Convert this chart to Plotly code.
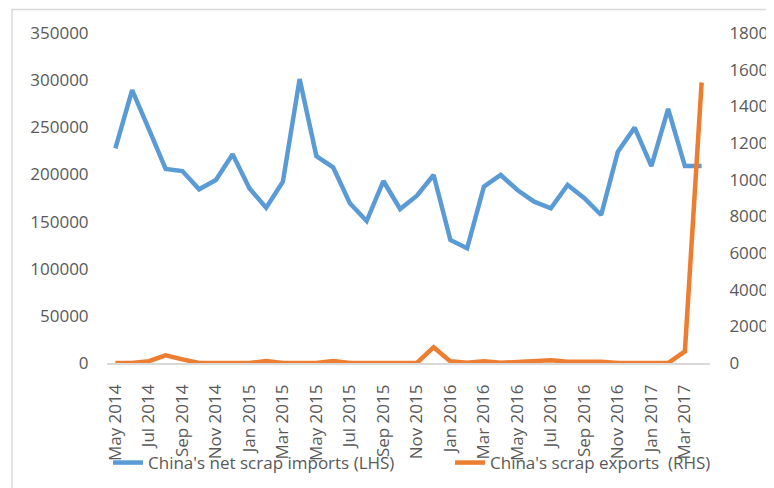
import plotly.graph_objects as go

months = ["May 2014", "Jun 2014", "Jul 2014", "Aug 2014", "Sep 2014", "Oct 2014", "Nov 2014", "Dec 2014",
          "Jan 2015", "Feb 2015", "Mar 2015", "Apr 2015", "May 2015", "Jun 2015", "Jul 2015", "Aug 2015",
          "Sep 2015", "Oct 2015", "Nov 2015", "Dec 2015", "Jan 2016", "Feb 2016", "Mar 2016", "Apr 2016",
          "May 2016", "Jun 2016", "Jul 2016", "Aug 2016", "Sep 2016", "Oct 2016", "Nov 2016", "Dec 2016",
          "Jan 2017", "Feb 2017", "Mar 2017", "Apr 2017"]

net_imports = [227700, 289500, 248000, 205800, 203600, 184200, 194100, 221300,
               185300, 164700, 192300, 301200, 219500, 207500, 169400, 150600,
               193000, 163300, 177400, 199400, 130500, 121600, 187000, 199400,
               183500, 171100, 164000, 188800, 174700, 157000, 224100, 249600,
               208900, 269400, 208900, 208900]

exports = [0, 0, 100, 420, 200, 0, 0, 0,
           0, 110, 0, 0, 0, 110, 0, 0,
           0, 0, 0, 860, 90, 20, 100, 10,
           70, 70, 150, 70, 70, 70, 0, 0,
           0, 0, 630, 15300]

tick_labels = months[::2]
left_ticks = list(range(0, 350001, 50000))
right_ticks = list(range(0, 18001, 2000))

FONT = "Open Sans"
GREY = "#595959"

# page body adds an 8px offset; figure-coordinate layout values below account for it
L, R, T, B = 99, 72, 25, 133
PW = 774 - L - R
PH = 488 - T - B

fig = go.Figure()
fig.add_trace(go.Scatter(x=months, y=net_imports, mode="lines", name="China's net scrap imports (LHS)",
                         line=dict(color="#5B9BD5", width=4.5), legend="legend"))
fig.add_trace(go.Scatter(x=months, y=exports, mode="lines", name="China's scrap exports  (RHS)",
                         line=dict(color="#ED7D31", width=4.5), yaxis="y2", legend="legend2"))

legend_common = dict(orientation="h", xref="container", yref="container", y=(488 - 455) / 488,
                     xanchor="left", yanchor="middle", font=dict(family=FONT, size=17, color=GREY),
                     bgcolor="rgba(0,0,0,0)", borderwidth=0)

fig.update_layout(
    width=774, height=488,
    margin=dict(l=L, r=R, t=T, b=B),
    paper_bgcolor="white", plot_bgcolor="white",
    font=dict(family=FONT, size=17, color=GREY),
    xaxis=dict(type="category", range=[-0.5, 35.5], tickmode="array", tickvals=tick_labels,
               ticktext=tick_labels, tickangle=-90, showgrid=False, zeroline=False, automargin=False,
               showline=True, linecolor="#D9D9D9", linewidth=1.5, ticks="outside", ticklen=13,
               tickcolor="rgba(0,0,0,0)", tickfont=dict(size=17, color=GREY)),
    yaxis=dict(range=[0, 350000], tickmode="array", tickvals=left_ticks,
               ticktext=[str(v) for v in left_ticks], showgrid=False, zeroline=False, automargin=False,
               showline=False, ticks="outside", ticklen=14, tickcolor="rgba(0,0,0,0)",
               tickfont=dict(size=17, color=GREY)),
    yaxis2=dict(range=[0, 18000], tickmode="array", tickvals=right_ticks,
                ticktext=[str(v) for v in right_ticks], overlaying="y", side="right", automargin=False,
                showgrid=False, zeroline=False, showline=False, ticks="outside", ticklen=15,
                tickcolor="rgba(0,0,0,0)", tickfont=dict(size=17, color=GREY)),
    legend=dict(x=100 / 774, **legend_common),
    legend2=dict(x=442 / 774, **legend_common),
    showlegend=True,
)

fig.add_shape(type="rect", xref="paper", yref="paper", x0=(4 - L) / PW, x1=(800 - L) / PW,
              y0=(488 - B - 520) / PH, y1=(488 - B - 1.5) / PH, line=dict(color="#D9D9D9", width=1.5),
              fillcolor="rgba(0,0,0,0)", layer="below")

fig.write_html("out.html")
